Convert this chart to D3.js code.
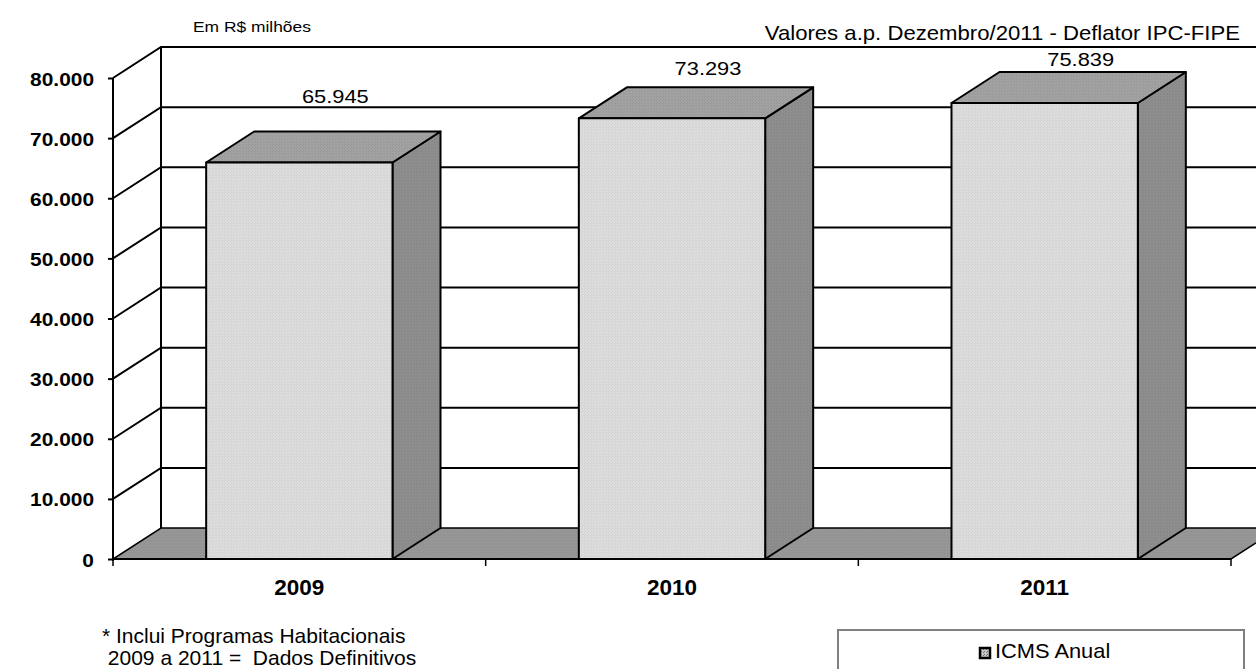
<!DOCTYPE html>
<html>
<head>
<meta charset="utf-8">
<script src="https://cdn.jsdelivr.net/npm/d3@7"></script>
<style>
  body { margin: 0; background: #fff; }
  text { font-family: "Liberation Sans", Arial, sans-serif; fill: #000; }
</style>
</head>
<body>
<script>
  // chart values
  let years  = ['2009', '2010', '2011'];
  let values = [65945, 73293, 75839];
  let ticks  = [0, 10000, 20000, 30000, 40000, 50000, 60000, 70000, 80000];
  let unitLabel  = 'Em R$ milhões';
  let noteLabel  = 'Valores a.p. Dezembro/2011 - Deflator IPC-FIPE';
  let footLines  = ['* Inclui Programas Habitacionais', ' 2009 a 2011 =  Dados Definitivos'];
  let seriesName = 'ICMS Anual';

  function go() {
    let width = 1256, height = 669;
    let dx = 48, dy = -31;   // depth of the 3d box

    let fmt = d3.formatLocale({ decimal: ',', thousands: '.', grouping: [3], currency: ['R$', ''] }).format(',d');

    let svg = d3.select('body').append('svg')
      .attr('width', width)
      .attr('height', height);

    let defs = svg.append('defs');
    function stipple(id, a, b) {
      let p = defs.append('pattern').attr('id', id)
        .attr('width', 3).attr('height', 3).attr('patternUnits', 'userSpaceOnUse');
      p.append('rect').attr('width', 3).attr('height', 3).attr('fill', a);
      p.append('rect').attr('width', 1).attr('height', 1).attr('fill', b);
      p.append('rect').attr('x', 2).attr('y', 1).attr('width', 1).attr('height', 1).attr('fill', b);
    }
    stipple('front', '#dcdcdc', '#d0d0d0');
    stipple('top', '#a2a2a2', '#979797');
    stipple('side', '#8e8e8e', '#858585');
    stipple('floor', '#979797', '#8f8f8f');
    stipple('swatch', '#c8c8c8', '#6a6a6a');

    let x = d3.scaleBand().domain(years).range([113, 1231]).paddingInner(0.5).paddingOuter(0.25);
    let y = d3.scaleLinear().domain([0, 80000]).range([559, 78]);
    // excel puts the 3d value labels on its own projected height
    let yLabel = d3.scaleLinear().domain([0, 80000]).range([343, 43]);

    let x0 = x.range()[0], x1 = x.range()[1];
    let line = d3.line();

    // floor
    svg.append('path')
      .attr('d', line([[x0, y(0)], [x1, y(0)], [x1 + dx, y(0) + dy], [x0 + dx, y(0) + dy]]) + 'Z')
      .attr('fill', 'url(#floor)')
      .attr('stroke', '#000')
      .attr('stroke-width', 1.5);

    // walls and gridlines
    let grid = svg.append('g').attr('stroke', '#000').attr('stroke-width', 2).attr('fill', 'none');
    ticks.filter(t => t > 0).forEach(function (t) {
      grid.append('path').attr('d', line([[x0, y(t)], [x0 + dx, y(t) + dy], [x1 + dx, y(t) + dy]]));
    });
    grid.append('path').attr('d', line([[x0 + dx, y(0) + dy], [x0 + dx, y(80000) + dy]]));

    // bars
    let bars = svg.selectAll('g.bar').data(years).enter().append('g')
      .attr('class', 'bar')
      .attr('stroke', '#000')
      .attr('stroke-width', 2)
      .attr('stroke-linejoin', 'round');

    bars.each(function (d, i) {
      let g = d3.select(this);
      let a = x(d), b = x(d) + x.bandwidth();
      let top = y(values[i]), base = y(0);
      g.append('path')
        .attr('d', line([[b, top], [b + dx, top + dy], [b + dx, base + dy], [b, base]]) + 'Z')
        .attr('fill', 'url(#side)');
      g.append('path')
        .attr('d', line([[a, top], [a + dx, top + dy], [b + dx, top + dy], [b, top]]) + 'Z')
        .attr('fill', 'url(#top)');
      g.append('rect')
        .attr('x', a).attr('y', top)
        .attr('width', b - a).attr('height', base - top)
        .attr('fill', 'url(#front)');
    });

    // value labels
    svg.selectAll('text.value').data(years).enter().append('text')
      .attr('class', 'value')
      .attr('text-anchor', 'middle')
      .attr('font-size', 19)
      .attr('transform', (d, i) => 'translate(' + (x(d) + x.bandwidth() / 2 + 36) + ',' + (yLabel(values[i]) + 7) + ') scale(1.15,1)')
      .text((d, i) => fmt(values[i]));

    // value axis
    let yAxis = d3.axisLeft(y).tickValues(ticks).tickSize(5).tickFormat(fmt);
    let ya = svg.append('g').attr('transform', 'translate(' + x0 + ',0)').call(yAxis);
    ya.select('.domain').attr('stroke', '#000').attr('stroke-width', 2).attr('d', 'M0,' + y(80000) + 'V' + (y(0) + 2));
    ya.selectAll('.tick line').attr('stroke', '#000').attr('stroke-width', 2);
    ya.selectAll('.tick text')
      .attr('x', null).attr('dy', null)
      .attr('font-family', null)
      .attr('font-size', 19)
      .attr('font-weight', 'bold')
      .attr('transform', 'translate(-19,7) scale(1.1,1)');

    // category axis
    let bounds = [x0].concat(years.map(d => x(d) + x.bandwidth() / 2 + x.step() / 2));
    let ca = svg.append('g');
    ca.append('path').attr('d', line([[x0, y(0)], [x1, y(0)]])).attr('stroke', '#000').attr('stroke-width', 2);
    ca.selectAll('line').data(bounds).enter().append('line')
      .attr('x1', d => d).attr('x2', d => d)
      .attr('y1', y(0)).attr('y2', y(0) + 7)
      .attr('stroke', '#000').attr('stroke-width', 1.5);
    ca.selectAll('text').data(years).enter().append('text')
      .attr('x', d => x(d) + x.bandwidth() / 2)
      .attr('y', 595)
      .attr('text-anchor', 'middle')
      .attr('font-size', 22.5)
      .attr('font-weight', 'bold')
      .text(d => d);

    // titles
    svg.append('text')
      .attr('transform', 'translate(193,32) scale(1.2,1)')
      .attr('font-size', 14.5)
      .text(unitLabel);
    svg.append('text')
      .attr('transform', 'translate(1240,40) scale(1.08,1)')
      .attr('text-anchor', 'end')
      .attr('font-size', 20.5)
      .text(noteLabel);

    // foot note
    svg.selectAll('text.foot').data(footLines).enter().append('text')
      .attr('class', 'foot')
      .attr('x', 102)
      .attr('y', (d, i) => 643 + i * 22)
      .attr('font-size', 21)
      .attr('xml:space', 'preserve')
      .style('white-space', 'pre')
      .text(d => d);

    // legend
    let lg = svg.append('g');
    lg.append('rect')
      .attr('x', 838).attr('y', 630)
      .attr('width', 406).attr('height', 60)
      .attr('fill', '#fff')
      .attr('stroke', '#808080')
      .attr('stroke-width', 2);
    lg.append('rect')
      .attr('x', 980).attr('y', 648)
      .attr('width', 10).attr('height', 10)
      .attr('fill', 'url(#swatch)')
      .attr('stroke', '#000')
      .attr('stroke-width', 2.5);
    lg.append('text')
      .attr('transform', 'translate(995,658) scale(1.04,1)')
      .attr('font-size', 21)
      .text(seriesName);
  }

  document.addEventListener('DOMContentLoaded', go);
</script>
</body>
</html>
